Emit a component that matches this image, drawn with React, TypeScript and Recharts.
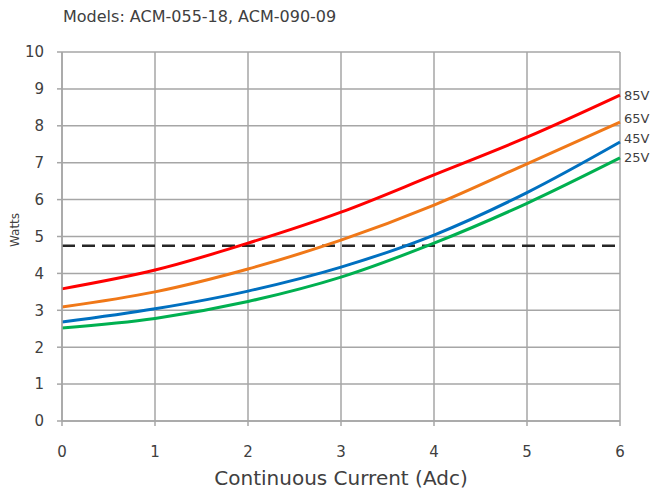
import { LineChart, Line, XAxis, YAxis, CartesianGrid, ReferenceLine, Label } from 'recharts'

const current = [0, 1, 2, 3, 4, 5, 6]
const watts85 = [3.58, 4.09, 4.82, 5.66, 6.67, 7.69, 8.83]
const watts65 = [3.09, 3.5, 4.12, 4.9, 5.85, 6.97, 8.1]
const watts45 = [2.68, 3.04, 3.52, 4.17, 5.04, 6.19, 7.56]
const watts25 = [2.52, 2.78, 3.24, 3.9, 4.82, 5.9, 7.13]
const limit = 4.75
const xTicks = [0, 1, 2, 3, 4, 5, 6]
const yTicks = [0, 1, 2, 3, 4, 5, 6, 7, 8, 9, 10]

const data = current.map((c, i) => ({
  current: c,
  v85: watts85[i],
  v65: watts65[i],
  v45: watts45[i],
  v25: watts25[i],
}))

const series = [
  { key: 'v85', name: '85V', color: '#ff0000', dy: 0 },
  { key: 'v65', name: '65V', color: '#f07818', dy: -4 },
  { key: 'v45', name: '45V', color: '#0070c0', dy: -4 },
  { key: 'v25', name: '25V', color: '#00b050', dy: 0 },
]

const font = '"DejaVu Sans", Verdana, sans-serif'
const textColor = '#404040'
const gridColor = '#a6a6a6'

function endLabel(name: string, dy: number) {
  return (props: any) => {
    const { x, y, index } = props
    if (index !== data.length - 1) return null
    return (
      <text x={x + 4} y={y + dy} dominantBaseline="central" fontSize={13} fill={textColor} fontFamily={font}>
        {name}
      </text>
    )
  }
}

export default function App() {
  return (
    <div style={{ position: 'absolute', left: 0, top: 0, width: 654, height: 494, fontFamily: font }}>
      <div style={{ position: 'absolute', left: 63, top: 7, fontSize: 16, color: textColor, whiteSpace: 'nowrap' }}>
        Models: ACM-055-18, ACM-090-09
      </div>
      <LineChart width={654} height={494} data={data} margin={{ top: 52, right: 34, left: 0, bottom: 0 }}>
        <CartesianGrid stroke={gridColor} strokeWidth={1.5} />
        <XAxis
          dataKey="current"
          type="number"
          domain={[0, 6]}
          ticks={xTicks}
          height={73}
          stroke={gridColor}
          strokeWidth={1.5}
          tickSize={5}
          tickMargin={20}
          tick={{ fontSize: 15, fill: textColor, fontFamily: font }}
        >
          <Label value="Continuous Current (Adc)" position="insideBottom" offset={9} fontSize={20} fill={textColor} fontFamily={font} />
        </XAxis>
        <YAxis
          type="number"
          domain={[0, 10]}
          ticks={yTicks}
          width={62}
          stroke={gridColor}
          strokeWidth={1.5}
          tickSize={5}
          tickMargin={13}
          tick={{ fontSize: 15, fill: textColor, fontFamily: font }}
        >
          <Label
            content={() => (
              <text x={15} y={230} transform="rotate(-90 15 230)" textAnchor="middle" dominantBaseline="central" fontSize={12} fill={textColor} fontFamily={font}>
                Watts
              </text>
            )}
          />
        </YAxis>
        <ReferenceLine y={limit} stroke="#262626" strokeWidth={2.5} strokeDasharray="13 7" />
        {series.map((s) => (
          <Line
            key={s.key}
            dataKey={s.key}
            type="monotone"
            stroke={s.color}
            strokeWidth={3}
            dot={false}
            isAnimationActive={false}
            label={endLabel(s.name, s.dy)}
          />
        ))}
      </LineChart>
    </div>
  )
}
